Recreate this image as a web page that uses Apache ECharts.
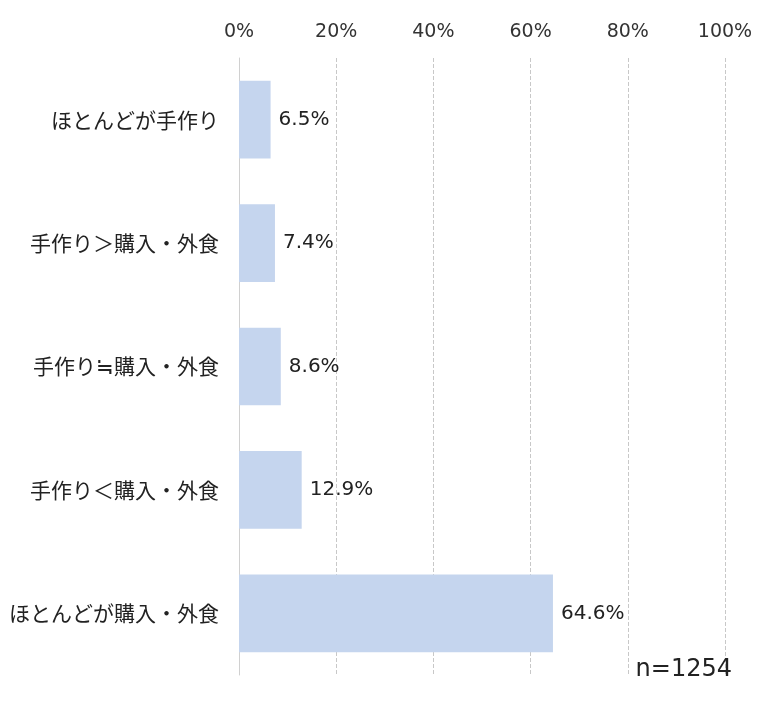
<!DOCTYPE html>
<html><head><meta charset="utf-8">
<script src="https://cdn.jsdelivr.net/npm/echarts@6/dist/echarts.min.js"></script>
<style>html,body{margin:0;padding:0;background:#fff}#c{width:761px;height:704px}</style>
</head><body><div id="c"></div>
<script>
var categories = ['ほとんどが手作り','手作り＞購入・外食','手作り≒購入・外食','手作り＜購入・外食','ほとんどが購入・外食'];
var values = [6.5, 7.4, 8.6, 12.9, 64.6];
var xTicks = [0, 20, 40, 60, 80, 100];
var sampleNote = 'n=1254';
var font = '"Noto Sans CJK JP", "Noto Sans", sans-serif';
var numFont = '"DejaVu Sans", "Noto Sans", sans-serif';
var chart = echarts.init(document.getElementById('c'), null, {renderer:'canvas'});
chart.setOption({
  animation:false,
  textStyle:{fontFamily:font},
  title:{text:sampleNote, right:24, bottom:17, textStyle:{fontSize:24, fontWeight:'normal', color:'#222', fontFamily:numFont}},
  grid:{left:239, right:36, top:58, bottom:29, containLabel:false},
  xAxis:{type:'value', position:'top', min:xTicks[0], max:xTicks[xTicks.length-1], interval:20,
    axisLine:{show:false}, axisTick:{show:false},
    axisLabel:{formatter:'{value}%', fontSize:19, color:'#333', margin:16, fontFamily:numFont},
    splitLine:{show:true, lineStyle:{type:'dashed', color:'#c8c8c8', width:1}}},
  yAxis:{type:'category', data:categories, inverse:true,
    axisLine:{show:true, lineStyle:{color:'#d0d0d0'}}, axisTick:{show:false},
    axisLabel:{fontSize:21, color:'#222', margin:20, fontFamily:font}},
  series:[{type:'bar', data:values, barCategoryGap:'37%',
    itemStyle:{color:'#c5d5ee'},
    label:{show:true, position:'right', distance:8, formatter:'{c}%', fontSize:20, color:'#222', fontFamily:numFont}}]
});
</script></body></html>
